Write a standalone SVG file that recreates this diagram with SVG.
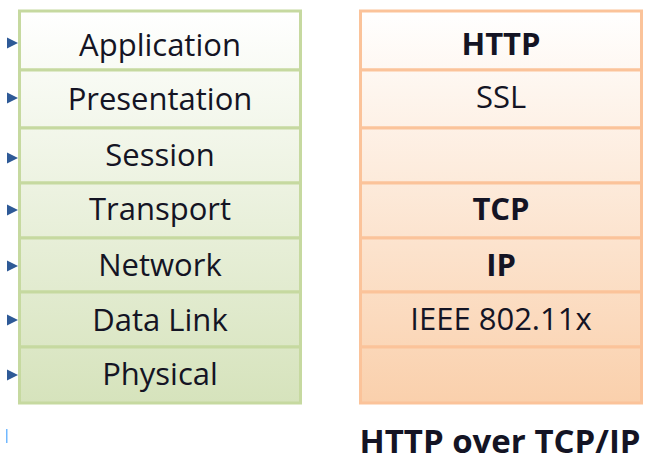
<svg xmlns="http://www.w3.org/2000/svg" width="651" height="463" viewBox="0 0 651 463">
  <defs>
    <linearGradient id="gGreen" gradientUnits="userSpaceOnUse" x1="0" y1="10" x2="0" y2="403">
      <stop offset="0" stop-color="#FFFFFF"/>
      <stop offset="1" stop-color="#D6E3BC"/>
    </linearGradient>
    <linearGradient id="gOrange" gradientUnits="userSpaceOnUse" x1="0" y1="10" x2="0" y2="403">
      <stop offset="0" stop-color="#FFFFFF"/>
      <stop offset="1" stop-color="#FAD0AC"/>
    </linearGradient>
  </defs>
  <style>
    .osi { fill: url(#gGreen); stroke: #C6D9A0; stroke-width: 3; }
    .tcp { fill: url(#gOrange); stroke: #FBC39A; stroke-width: 3; }
    .lbl { font-family: "Open Sans", "Liberation Sans", sans-serif; font-size: 31px; fill: #141424; text-anchor: middle; }
    .b { font-weight: bold; }
    .cap { font-size: 33px; }
    .tri { fill: #2E5A97; }
  </style>
  <rect width="651" height="463" fill="#FFFFFF"/>

  <!-- OSI model stack -->
  <g id="osi-application"><rect class="osi" x="19.5" y="11" width="281" height="59"/><text class="lbl" x="160" y="56">Application</text></g>
  <g id="osi-presentation"><rect class="osi" x="19.5" y="70" width="281" height="58"/><text class="lbl" x="160" y="110">Presentation</text></g>
  <g id="osi-session"><rect class="osi" x="19.5" y="128" width="281" height="55"/><text class="lbl" x="160" y="166">Session</text></g>
  <g id="osi-transport"><rect class="osi" x="19.5" y="183" width="281" height="55"/><text class="lbl" x="160" y="220">Transport</text></g>
  <g id="osi-network"><rect class="osi" x="19.5" y="238" width="281" height="54"/><text class="lbl" x="160" y="276">Network</text></g>
  <g id="osi-datalink"><rect class="osi" x="19.5" y="292" width="281" height="55"/><text class="lbl" x="160" y="331">Data Link</text></g>
  <g id="osi-physical"><rect class="osi" x="19.5" y="347" width="281" height="56"/><text class="lbl" x="160" y="385">Physical</text></g>

  <!-- TCP/IP mapping stack -->
  <g id="tcp-http"><rect class="tcp" x="360.5" y="11" width="281" height="59"/><text class="lbl b" x="501" y="55">HTTP</text></g>
  <g id="tcp-ssl"><rect class="tcp" x="360.5" y="70" width="281" height="58"/><text class="lbl" x="501" y="108">SSL</text></g>
  <g id="tcp-empty1"><rect class="tcp" x="360.5" y="128" width="281" height="55"/></g>
  <g id="tcp-tcp"><rect class="tcp" x="360.5" y="183" width="281" height="55"/><text class="lbl b" x="501" y="220">TCP</text></g>
  <g id="tcp-ip"><rect class="tcp" x="360.5" y="238" width="281" height="54"/><text class="lbl b" x="501" y="276">IP</text></g>
  <g id="tcp-ieee"><rect class="tcp" x="360.5" y="292" width="281" height="55"/><text class="lbl" x="501" y="330">IEEE 802.11x</text></g>
  <g id="tcp-empty2"><rect class="tcp" x="360.5" y="347" width="281" height="56"/></g>

  <!-- bullet markers -->
  <g id="markers">
    <polygon class="tri" points="7,37.5 18,43 7,48.5"/>
    <polygon class="tri" points="7,92.5 18,98 7,103.5"/>
    <polygon class="tri" points="7,152.5 18,158 7,163.5"/>
    <polygon class="tri" points="7,204.5 18,210 7,215.5"/>
    <polygon class="tri" points="7,260.5 18,266 7,271.5"/>
    <polygon class="tri" points="7,314.5 18,320 7,325.5"/>
    <polygon class="tri" points="7,369.5 18,375 7,380.5"/>
    <rect x="6" y="429" width="1.5" height="14" fill="#4DA6FF" opacity="0.8"/>
  </g>

  <text id="caption" class="lbl b cap" x="500" y="453">HTTP over TCP/IP</text>
</svg>
